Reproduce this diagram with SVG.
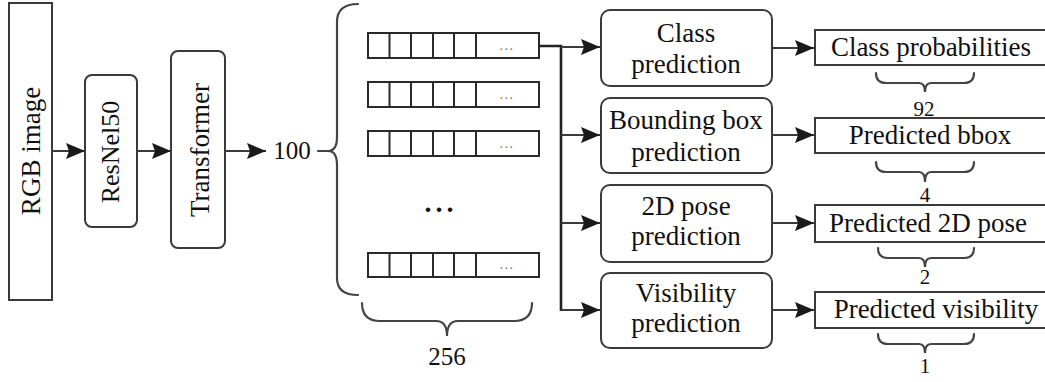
<svg xmlns="http://www.w3.org/2000/svg" width="1045" height="382" viewBox="0 0 1045 382">
<defs>
<style>
.box{fill:#fff;stroke:#3a3a3a;stroke-width:2}
.cell{fill:#fff;stroke:#2a2a2a;stroke-width:2}
.ln{fill:none;stroke:#3a3a3a;stroke-width:2.2}
.br{fill:none;stroke:#444;stroke-width:2.2;stroke-linecap:round}
.t{font-family:"Liberation Serif","Times New Roman",serif;font-size:27px;fill:#111;text-anchor:middle}
.n{font-family:"Liberation Serif","Times New Roman",serif;font-size:21px;fill:#111;text-anchor:middle}
.d{font-family:"Liberation Serif","Times New Roman",serif;font-size:14px;fill:#777;text-anchor:middle;letter-spacing:1.5px}
</style>
<marker id="ah" markerUnits="userSpaceOnUse" markerWidth="19" markerHeight="16" refX="19" refY="8" orient="auto" viewBox="0 0 19 16">
<path d="M0,0 L19,8 L0,16 L3,8 z" fill="#1a1a1a"/>
</marker>
</defs>
<rect width="1045" height="382" fill="#fff"/>

<g id="rgb">
<rect class="box" x="9" y="3" width="43" height="297"/>
<text class="t" transform="translate(40,151) rotate(-90)">RGB image</text>
</g>
<g id="resnet">
<rect class="box" x="85" y="75" width="52" height="152" rx="7"/>
<text class="t" transform="translate(119,152) rotate(-90)" style="font-size:26px">ResNel50</text>
</g>
<g id="transformer">
<rect class="box" x="171" y="51" width="54" height="197" rx="7"/>
<text class="t" transform="translate(209,150) rotate(-90)">Transformer</text>
</g>
<g id="queries">
<text class="t" x="292" y="159" style="font-size:25px">100</text>
<path class="br" d="M318,151 L328,151"/>
<path class="br" d="M358,4 Q337,4 337,22 L337,137 Q337,151 328,151 Q337,151 337,165 L337,278 Q337,295 358,295"/>
</g>
<g id="vectors">
<g id="row1">
<rect class="cell" x="368" y="33" width="171" height="25"/>
<path class="cell" d="M389.5,33 V58 M411,33 V58 M433,33 V58 M454,33 V58 M476,33 V58"/>
<text class="d" x="507" y="50">...</text>
</g>
<g id="row2">
<rect class="cell" x="368" y="82" width="171" height="25"/>
<path class="cell" d="M389.5,82 V107 M411,82 V107 M433,82 V107 M454,82 V107 M476,82 V107"/>
<text class="d" x="507" y="99">...</text>
</g>
<g id="row3">
<rect class="cell" x="368" y="131" width="171" height="25"/>
<path class="cell" d="M389.5,131 V156 M411,131 V156 M433,131 V156 M454,131 V156 M476,131 V156"/>
<text class="d" x="507" y="148">...</text>
</g>
<text class="t" x="441" y="212" style="font-weight:bold;font-size:28px;letter-spacing:4px">...</text>
<g id="row4">
<rect class="cell" x="368" y="253" width="171" height="24"/>
<path class="cell" d="M389.5,253 V277 M411,253 V277 M433,253 V277 M454,253 V277 M476,253 V277"/>
<text class="d" x="507" y="269">...</text>
</g>
<g id="dim256">
<path class="br" d="M362,303 Q362,321 380,321 L436,321 Q447,321 447,336 Q447,321 458,321 L514,321 Q532,321 532,303"/>
<text class="t" x="447" y="365" style="font-size:25px">256</text>
</g>
</g>

<g id="heads">
<g id="class-pred">
<rect class="box" x="601" y="10" width="171" height="76" rx="9"/>
<text class="t" x="686" y="42">Class</text>
<text class="t" x="686" y="73">prediction</text>
</g>
<g id="bbox-pred">
<rect class="box" x="601" y="98" width="171" height="75" rx="9"/>
<text class="t" x="686" y="129">Bounding box</text>
<text class="t" x="686" y="161">prediction</text>
</g>
<g id="pose-pred">
<rect class="box" x="601" y="185" width="171" height="77" rx="9"/>
<text class="t" x="686" y="215">2D pose</text>
<text class="t" x="686" y="245">prediction</text>
</g>
<g id="vis-pred">
<rect class="box" x="601" y="273" width="171" height="75" rx="9"/>
<text class="t" x="686" y="302">Visibility</text>
<text class="t" x="686" y="332">prediction</text>
</g>
</g>

<g id="outputs">
<g id="class-out">
<rect class="box" x="815" y="30" width="240" height="35"/>
<text class="t" x="931" y="56">Class probabilities</text>
<path class="br" d="M876,73 Q876,83 886,83 L919,83 Q925,83 925,92 Q925,83 931,83 L964,83 Q974,83 974,73"/>
<text class="n" x="924" y="116">92</text>
</g>
<g id="bbox-out">
<rect class="box" x="815" y="118" width="240" height="35"/>
<text class="t" x="930" y="144">Predicted bbox</text>
<path class="br" d="M876,162 Q876,172 886,172 L919,172 Q925,172 925,182 Q925,172 931,172 L964,172 Q974,172 974,162"/>
<text class="n" x="925" y="202">4</text>
</g>
<g id="pose-out">
<rect class="box" x="815" y="205" width="240" height="37"/>
<text class="t" x="928" y="232">Predicted 2D pose</text>
<path class="br" d="M878,248 Q878,258 888,258 L919,258 Q925,258 925,267 Q925,258 931,258 L964,258 Q974,258 974,248"/>
<text class="n" x="925" y="284">2</text>
</g>
<g id="vis-out">
<rect class="box" x="815" y="292" width="240" height="36"/>
<text class="t" x="936" y="318">Predicted visibility</text>
<path class="br" d="M878,334 Q878,344 888,344 L919,344 Q925,344 925,353 Q925,344 931,344 L964,344 Q974,344 974,334"/>
<text class="n" x="925" y="373">1</text>
</g>
</g>

<g id="connectors">
<path class="ln" d="M52,151 H85" marker-end="url(#ah)"/>
<path class="ln" d="M137,151 H171" marker-end="url(#ah)"/>
<path class="ln" d="M225,151 H266" marker-end="url(#ah)"/>
<path class="ln" d="M539,46 H561 V311" style="stroke:#222;stroke-width:2.6"/>
<path class="ln" d="M561,47 H600" marker-end="url(#ah)"/>
<path class="ln" d="M561,135 H600" marker-end="url(#ah)"/>
<path class="ln" d="M561,223 H600" marker-end="url(#ah)"/>
<path class="ln" d="M561,310 H600" marker-end="url(#ah)"/>
<path class="ln" d="M772,48 H814" marker-end="url(#ah)"/>
<path class="ln" d="M772,135 H814" marker-end="url(#ah)"/>
<path class="ln" d="M772,223 H814" marker-end="url(#ah)"/>
<path class="ln" d="M772,310 H814" marker-end="url(#ah)"/>
</g>
</svg>
